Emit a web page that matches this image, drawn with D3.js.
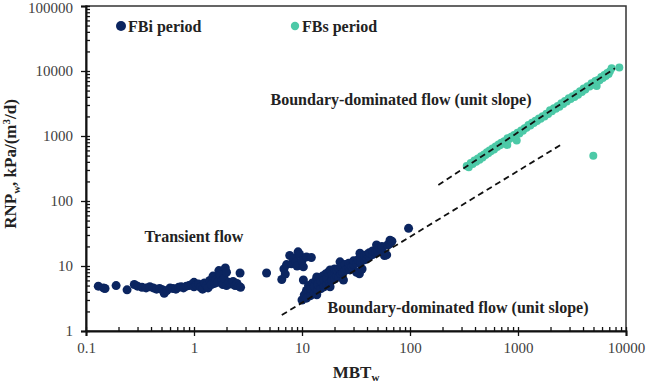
<!DOCTYPE html>
<html>
<head>
<meta charset="utf-8">
<script src="https://cdnjs.cloudflare.com/ajax/libs/d3/7.8.5/d3.min.js"></script>
<style>
  body { margin: 0; background: #fff; }
  text { font-family: "Liberation Serif", "Times New Roman", serif; }
</style>
</head>
<body>
<div id="chart"></div>
<script>
// tick values / labels
var xMajor = [0.1, 1, 10, 100, 1000, 10000];
var xTickLabels = ["0.1", "1", "10", "100", "1000", "10000"];
var yMajor = [1, 10, 100, 1000, 10000, 100000];
var yTickLabels = ["1", "10", "100", "1000", "10000", "100000"];

// FBi period (MBTw, RNPw)
var fbiMBT = [0.13, 0.145, 0.15, 0.19, 0.24, 0.28, 0.3, 0.33, 0.36, 0.39, 0.42, 0.45, 0.48, 0.51, 0.53, 0.56, 0.6, 0.64, 0.68, 0.72,
  0.76, 0.8, 0.85, 0.9, 0.95, 1.0, 1.0, 1.05, 1.1, 1.15, 1.2, 1.25, 1.3, 1.35, 1.4, 1.45, 1.5, 1.55, 1.6, 1.65,
  1.7, 1.75, 1.8, 1.85, 1.9, 1.95, 2.0, 2.0, 2.1, 2.2, 2.3, 2.4, 2.5, 2.6, 2.67, 2.7, 4.7,
  6.5, 6.8, 7.0, 7.2, 7.7, 8.0, 8.3, 8.8, 9.0, 9.2, 9.5, 10.0, 10.3, 11.0, 12.2,
  10, 10.3, 10.5, 11, 11, 11.4, 11.5, 12, 12, 12.5, 13, 13, 13.5, 13.7, 13.7, 14, 14, 14.5, 15, 15, 15.5, 16, 16, 16.5,
  17, 17, 17.5, 18, 18.2, 18.2, 18.5, 19, 19, 20, 20, 20, 21, 21, 22, 22, 22.5, 23, 23, 24, 24.2, 25, 25, 26, 27, 27, 27.8,
  28, 29, 30, 30, 32, 32, 33, 34, 34.4, 35, 35, 36, 38, 38, 40, 40, 42, 42, 45, 45, 48, 49, 50, 52, 55, 55, 58, 60.8,
  62, 65, 65.3, 68, 97];
var fbiRNP = [4.9, 4.6, 4.5, 5.0, 4.3, 5.2, 4.9, 4.7, 4.6, 4.8, 4.6, 4.4, 4.5, 4.3, 3.8, 4.2, 4.6, 4.5, 4.4, 4.7,
  4.8, 4.6, 4.9, 5.0, 5.2, 5.6, 4.8, 5.1, 5.3, 4.7, 4.4, 5.5, 5.0, 4.6, 6.0, 5.2, 7.0, 5.4, 6.2, 5.6,
  8.5, 7.3, 5.9, 5.2, 6.5, 9.3, 8.0, 5.0, 5.6, 5.3, 5.8, 5.0, 5.4, 4.9, 7.8, 4.7, 7.8,
  6.2, 9.0, 7.5, 10.5, 14.5, 10.8, 13.2, 11.5, 10.0, 16.5, 15.0, 12.0, 9.7, 13.8, 13.5,
  3.0, 6.1, 3.6, 4.2, 3.2, 4.3, 5.0, 3.5, 4.5, 5.5, 3.8, 4.8, 6.0, 3.6, 6.8, 4.2, 5.2, 6.5, 4.5, 5.8, 7.0, 4.8, 6.2, 7.5,
  5.2, 6.5, 8.0, 5.5, 4.8, 8.7, 8.5, 6.0, 7.5, 6.3, 8.0, 9.0, 7.0, 8.5, 6.8, 9.2, 11.6, 7.5, 9.8, 8.0, 6.1, 8.5, 10.5, 9.0, 9.5, 11.0, 8.7,
  10.0, 9.8, 10.5, 12.0, 11.0, 8.0, 12.5, 7.6, 15.7, 11.5, 13.5, 9.0, 12.5, 14.5, 13.0, 15.0, 14.0, 16.0, 15.0, 17.0, 16.0, 21.0, 17.0, 19.0, 18.0, 20.0, 14.5, 14.8,
  21.0, 22.0, 25.0, 24.0, 38];

// FBs period (MBTw, RNPw)
var fbsMBT = [335, 350, 365, 380, 395, 410, 425, 440, 455, 470, 485, 500, 515, 530, 545, 560, 580, 600, 620, 640,
  660, 680, 700, 720, 745, 770, 795, 800, 830, 860, 890, 920, 950, 973, 990, 1030, 1070, 1110, 1150, 1200,
  1250, 1300, 1350, 1400, 1450, 1500, 1560, 1620, 1690, 1760, 1830, 1900, 1980, 2060, 2150, 2240, 2330, 2420, 2520, 2620,
  2720, 2830, 2950, 3070, 3200, 3330, 3470, 3600, 3750, 3900, 4050, 4200, 4400, 4600, 4800, 4980, 5000, 5200, 5350, 5500,
  5700, 5900, 6100, 6300, 6500, 6700, 6900, 7100, 7360, 8670];
var fbsRNP = [345, 330, 385, 370, 420, 400, 450, 430, 490, 465, 520, 510, 560, 545, 600, 585, 640, 620, 690, 680,
  740, 720, 790, 760, 830, 810, 730, 920, 900, 970, 950, 1040, 1010, 850, 1120, 1090, 1210, 1200, 1320, 1340,
  1470, 1450, 1600, 1580, 1720, 1700, 1860, 1840, 2020, 2000, 2200, 2180, 2480, 2400, 2680, 2620, 2900, 2820, 3180, 3120,
  3450, 3380, 3800, 3700, 4100, 3980, 4450, 4300, 4900, 4750, 5400, 5200, 5850, 5750, 6500, 495, 6200, 7000, 5900, 7300,
  7200, 8100, 7800, 8700, 8400, 9300, 9000, 9900, 11000, 11300];

// dashed unit-slope guide lines (endpoints)
var upperGuideMBT = [183, 7900];
var upperGuideRNP = [176, 11000];
var lowerGuideMBT = [6.5, 2570];
var lowerGuideRNP = [1.76, 755];

var svgWidth = 646;
var svgHeight = 384;
var margin = { top: 6, right: 20, bottom: 53, left: 86 };
var width = svgWidth - margin.left - margin.right;
var height = svgHeight - margin.top - margin.bottom;

var navy = "#0b2560";
var teal = "#4cc9a7";

var svg = d3.select("#chart")
  .append("svg")
  .attr("width", svgWidth)
  .attr("height", svgHeight);

var chartGroup = svg.append("g")
  .attr("transform", `translate(${margin.left}, ${margin.top})`);

var x = d3.scaleLog().domain([0.1, 10000]).range([0, width]);
var y = d3.scaleLog().domain([1, 100000]).range([height, 0]);

// minor tick positions
function minors(majors) {
  var out = [];
  majors.slice(0, -1).forEach(function(m) {
    for (var k = 2; k <= 9; k++) out.push(m * k);
  });
  return out;
}

// frame (top and right)
chartGroup.append("rect")
  .attr("width", width)
  .attr("height", height)
  .attr("fill", "none")
  .attr("stroke", "#333")
  .attr("stroke-width", 1.5);

// x axis: labels + outward major ticks
var xAxis = chartGroup.append("g")
  .attr("transform", `translate(0, ${height})`)
  .call(d3.axisBottom(x).tickValues(xMajor).tickSize(5).tickPadding(6)
    .tickFormat(function(d, i) { return xTickLabels[i]; }));
// inward ticks (major + minor)
var xAxisIn = chartGroup.append("g")
  .attr("transform", `translate(0, ${height})`)
  .call(d3.axisTop(x).tickValues(xMajor.concat(minors(xMajor))).tickSize(4).tickFormat(""));

var yAxis = chartGroup.append("g")
  .call(d3.axisLeft(y).tickValues(yMajor).tickSize(5).tickPadding(8)
    .tickFormat(function(d, i) { return yTickLabels[i]; }));
var yAxisIn = chartGroup.append("g")
  .call(d3.axisRight(y).tickValues(yMajor.concat(minors(yMajor))).tickSize(4).tickFormat(""));

[xAxis, xAxisIn, yAxis, yAxisIn].forEach(function(a) {
  a.select(".domain").attr("stroke", "#111").attr("stroke-width", 2);
  a.selectAll(".tick line").attr("stroke", "#111").attr("stroke-width", 1.3);
  a.selectAll(".tick text")
    .attr("font-size", "15px")
    .attr("fill", "#404040");
});
xAxisIn.select(".domain").remove();
yAxisIn.select(".domain").remove();

// keep the top label inside the page
yAxis.selectAll(".tick text")
  .filter(function(d) { return d === 100000; })
  .attr("dy", "0.45em");

// guide lines
function guide(mbt, rnp) {
  chartGroup.append("line")
    .attr("x1", x(mbt[0])).attr("y1", y(rnp[0]))
    .attr("x2", x(mbt[1])).attr("y2", y(rnp[1]))
    .attr("stroke", "#111")
    .attr("stroke-width", 1.8)
    .attr("stroke-dasharray", "6,4");
}

// points
var fbiData = fbiMBT.map(function(d, i) { return { mbt: d, rnp: fbiRNP[i] }; });
var fbsData = fbsMBT.map(function(d, i) { return { mbt: d, rnp: fbsRNP[i] }; });

chartGroup.selectAll(".fbi")
  .data(fbiData)
  .enter()
  .append("circle")
  .attr("class", "fbi")
  .attr("cx", d => x(d.mbt))
  .attr("cy", d => y(d.rnp))
  .attr("r", 4.5)
  .attr("fill", navy);

chartGroup.selectAll(".fbs")
  .data(fbsData)
  .enter()
  .append("circle")
  .attr("class", "fbs")
  .attr("cx", d => x(d.mbt))
  .attr("cy", d => y(d.rnp))
  .attr("r", 4)
  .attr("fill", teal);

guide(upperGuideMBT, upperGuideRNP);
guide(lowerGuideMBT, lowerGuideRNP);

// annotations
function note(txt, cx, cy) {
  chartGroup.append("text")
    .attr("x", cx - margin.left)
    .attr("y", cy - margin.top)
    .attr("text-anchor", "middle")
    .attr("font-size", "16px")
    .attr("font-weight", "bold")
    .attr("fill", "#222")
    .text(txt);
}
note("Transient flow", 194, 242);
note("Boundary-dominated flow (unit slope)", 401, 105);
note("Boundary-dominated flow (unit slope)", 458, 313);

// legend
var legend = [
  { label: "FBi period", color: navy, r: 5, cx: 121 },
  { label: "FBs period", color: teal, r: 4.2, cx: 295 }
];
legend.forEach(function(l) {
  svg.append("circle")
    .attr("cx", l.cx).attr("cy", 26).attr("r", l.r).attr("fill", l.color);
  svg.append("text")
    .attr("x", l.cx + 7).attr("y", 31.5)
    .attr("font-size", "16px")
    .attr("font-weight", "bold")
    .attr("fill", "#222")
    .text(l.label);
});

// axis titles
var xTitle = svg.append("text")
  .attr("x", 356).attr("y", 378)
  .attr("text-anchor", "middle")
  .attr("font-size", "17px")
  .attr("font-weight", "bold")
  .attr("fill", "#222");
xTitle.append("tspan").text("MBT");
xTitle.append("tspan").attr("font-size", "11px").attr("dy", 3).text("w");

var yTitle = svg.append("text")
  .attr("transform", "translate(16, 164) rotate(-90)")
  .attr("text-anchor", "middle")
  .attr("font-size", "17px")
  .attr("font-weight", "bold")
  .attr("fill", "#222");
yTitle.append("tspan").text("RNP");
yTitle.append("tspan").attr("font-size", "11px").attr("dy", 4).text("w");
yTitle.append("tspan").attr("dy", -4).text(", kPa/(m");
yTitle.append("tspan").attr("font-size", "11px").attr("dy", -6).text("3");
yTitle.append("tspan").attr("dy", 6).text("/d)");
</script>
</body>
</html>
